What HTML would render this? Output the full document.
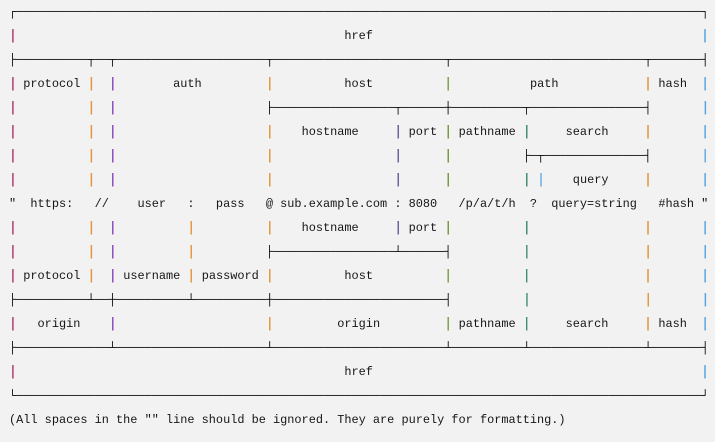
<!DOCTYPE html>
<html><head><meta charset="utf-8"><style>
html,body{margin:0;padding:0;background:#f2f2f2;width:715px;height:442px;overflow:hidden}
pre{margin:0;position:absolute;left:9px;top:0;font-family:"Liberation Mono","DejaVu Sans Mono",monospace;font-size:11.9px;line-height:24px;color:#151515;white-space:pre}
.v{text-shadow:0.6px 0 0 currentColor}
.h{color:#000}
</style></head><body>
<pre id="d">┌────────────────────────────────────────────────────────────────────────────────────────────────┐
│                                              href                                              │
├──────────┬──┬─────────────────────┬────────────────────────┬───────────────────────────┬───────┤
│ protocol │  │        auth         │          host          │           path            │ hash  │
│          │  │                     ├─────────────────┬──────┼──────────┬────────────────┤       │
│          │  │                     │    hostname     │ port │ pathname │     search     │       │
│          │  │                     │                 │      │          ├─┬──────────────┤       │
│          │  │                     │                 │      │          │ │    query     │       │
"  https:   //    user   :   pass   @ sub.example.com : 8080   /p/a/t/h  ?  query=string   #hash "
│          │  │          │          │    hostname     │ port │          │                │       │
│          │  │          │          ├─────────────────┴──────┤          │                │       │
│ protocol │  │ username │ password │          host          │          │                │       │
├──────────┴──┼──────────┴──────────┼────────────────────────┤          │                │       │
│   origin    │                     │         origin         │ pathname │     search     │ hash  │
├─────────────┴─────────────────────┴────────────────────────┴──────────┴────────────────┴───────┤
│                                              href                                              │
└────────────────────────────────────────────────────────────────────────────────────────────────┘
(All spaces in the "" line should be ignored. They are purely for formatting.)</pre>
<script>
var cols={0:'#b03a78',11:'#e0963a',14:'#8a48b8',25:'#e0963a',36:'#e0963a',54:'#6a5a9a',61:'#6f9a3a',72:'#3a8a72',74:'#6aaee8',89:'#e0963a',97:'#5aa4e0'};
var p=document.getElementById('d');
var lines=p.textContent.split('\n');
var out=lines.map(function(l){
  var s='';
  for(var i=0;i<l.length;i++){
    var c=l[i];
    var e=c.replace('&','&amp;').replace('<','&lt;');
    if(c==='│'&&cols[i]) s+='<span class="v" style="color:'+cols[i]+'">'+c+'</span>';
    else if('─┌┐└┘├┤┬┴┼'.indexOf(c)>=0) s+='<span class="h">'+c+'</span>';
    else s+=e;
  }
  return s;
});
p.innerHTML=out.join('\n');
</script>
</body></html>
